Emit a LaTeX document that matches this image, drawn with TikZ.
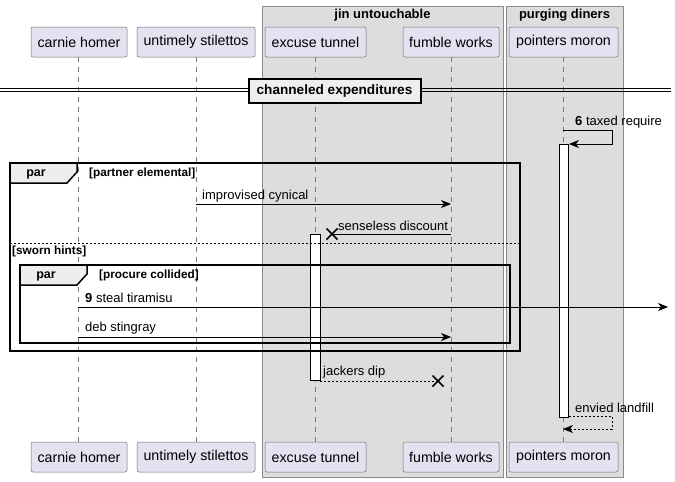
\documentclass[tikz,border=0pt]{standalone}
\usepackage{fontspec}
\setmainfont{Liberation Sans}
\usetikzlibrary{arrows.meta,calc}
\definecolor{partfill}{HTML}{E2E2F0}
\definecolor{partborder}{HTML}{6E6E6E}
\definecolor{boxfill}{HTML}{DDDDDD}
\definecolor{boxborder}{HTML}{8A8A8A}
\definecolor{lifegray}{HTML}{7A7A7A}
\definecolor{tabfill}{HTML}{EEEEEE}
\begin{document}
\begin{tikzpicture}[x=1pt,y=-1pt,
  part/.style={draw=partborder, fill=partfill, rounded corners=2pt, minimum height=30pt, inner sep=0pt, font=\fontsize{14.2}{16}\selectfont, line width=0.5pt},
  life/.style={draw=lifegray, dash pattern=on 5pt off 5pt, line width=0.6pt},
  grp/.style={draw=boxborder, fill=boxfill, line width=0.6pt},
  grptitle/.style={font=\bfseries\fontsize{13}{15}\selectfont, inner sep=0pt},
  msg/.style={draw=black, line width=0.8pt, -{Stealth[length=10pt,width=8pt,inset=3pt]}},
  rmsg/.style={msg, dash pattern=on 2pt off 2pt},
  plain/.style={draw=black, line width=0.8pt},
  lbl/.style={anchor=west, inner sep=0pt, font=\fontsize{13}{15}\selectfont},
  cond/.style={anchor=west, inner sep=0pt, font=\bfseries\fontsize{11.8}{13}\selectfont},
  frm/.style={draw=black, line width=1.5pt},
  tab/.style={draw=black, fill=tabfill, line width=1.5pt},
  tabtext/.style={font=\bfseries\fontsize{12.5}{14}\selectfont, inner sep=0pt},
  act/.style={draw=black, fill=white, line width=0.8pt},
  xmark/.style={draw=black, line width=1.5pt}
]
\useasboundingbox (0,0) rectangle (675,482);
% group boxes
\path[grp] (262,6) rectangle (503,477);
\node[grptitle] (gjin) at (382.5,15) {jin untouchable};
\path[grp] (506,6) rectangle (623,477);
\node[grptitle] (gpur) at (564.5,15) {purging diners};
% participants (top)
\node[part, minimum width=96pt] (ch) at (79,42) {carnie homer};
\node[part, minimum width=118pt] (us) at (196,42) {untimely stilettos};
\node[part, minimum width=101pt] (et) at (315.5,42) {excuse tunnel};
\node[part, minimum width=96pt] (fw) at (451,42) {fumble works};
\node[part, minimum width=109pt] (pm) at (563.5,42) {pointers moron};
% participants (bottom)
\node[part, minimum width=96pt] (chb) at (79,457) {carnie homer};
\node[part, minimum width=118pt] (usb) at (196,457) {untimely stilettos};
\node[part, minimum width=101pt] (etb) at (315.5,457) {excuse tunnel};
\node[part, minimum width=96pt] (fwb) at (451,457) {fumble works};
\node[part, minimum width=109pt] (pmb) at (563.5,457) {pointers moron};
% lifelines
\draw[life] (78,57) -- (78,442);
\draw[life] (196,57) -- (196,442);
\draw[life] (315,57) -- (315,442);
\draw[life] (451,57) -- (451,442);
\draw[life] (563,57) -- (563,442);
% divider
\draw[draw=black, line width=0.8pt] (0,88.5) -- (671,88.5);
\draw[draw=black, line width=0.8pt] (0,91.5) -- (671,91.5);
\node[draw=black, fill=tabfill, line width=2pt, minimum width=172pt, minimum height=24pt, inner sep=0pt, font=\bfseries\fontsize{13.6}{15}\selectfont] (div) at (334.5,90.5) {channeled expenditures};
% activations
\path[act] (559,144) rectangle (568,417);
\path[act] (310,234) rectangle (320,380);
% frames
\draw[frm] (10,163) rectangle (520,351);
\path[tab] (10,163) -- (77,163) -- (77,172) -- (67,183) -- (10,183) -- cycle;
\node[tabtext] (par1) at (36,174.5) {par};
\node[cond] (c1) at (89,173.5) {[partner elemental]};
\draw[draw=black, line width=0.8pt, dash pattern=on 2pt off 2pt] (10,243) -- (520,243);
\node[cond] (c2) at (12,251.5) {[sworn hints]};
\draw[frm] (20,265) rectangle (510,343);
\path[tab] (20,265) -- (87,265) -- (87,274) -- (77,285) -- (20,285) -- cycle;
\node[tabtext] (par2) at (46,276.5) {par};
\node[cond] (c3) at (99,275.5) {[procure collided]};
% message 6 self
\coordinate (m6a) at (563,130);
\coordinate (m6b) at (612,130);
\coordinate (m6c) at (612,144);
\coordinate (m6d) at (569,144);
\draw[msg] (m6a) -- (m6b) -- (m6c) -- (m6d);
\node[lbl] (l6) at (575,122) {\textbf{6} taxed require};
% improvised cynical
\coordinate (m1a) at (196,204);
\coordinate (m1b) at (451,204);
\draw[msg] (m1a) -- (m1b);
\node[lbl] (l1) at (202,196) {improvised cynical};
% senseless discount
\coordinate (m2a) at (451,234);
\coordinate (m2b) at (332,234);
\draw[plain] (m2a) -- (m2b);
\draw[xmark] ($(m2b)+(-5.5,-5.5)$) -- ($(m2b)+(5.5,5.5)$);
\draw[xmark] ($(m2b)+(-5.5,5.5)$) -- ($(m2b)+(5.5,-5.5)$);
\node[lbl] (l2) at (338,226) {senseless discount};
% steal tiramisu
\coordinate (m3a) at (78,307);
\coordinate (m3b) at (668,307);
\draw[msg] (m3a) -- (m3b);
\node[lbl] (l3) at (85,298) {\textbf{9} steal tiramisu};
% deb stingray
\coordinate (m4a) at (78,337);
\coordinate (m4b) at (451,337);
\draw[msg] (m4a) -- (m4b);
\node[lbl] (l4) at (85,328) {deb stingray};
% jackers dip
\coordinate (m5a) at (320,381);
\coordinate (m5b) at (438,381);
\draw[draw=black, line width=0.8pt, dash pattern=on 2pt off 2pt] (m5a) -- (m5b);
\draw[xmark] ($(m5b)+(-5.5,-5.5)$) -- ($(m5b)+(5.5,5.5)$);
\draw[xmark] ($(m5b)+(-5.5,5.5)$) -- ($(m5b)+(5.5,-5.5)$);
\node[lbl] (l5) at (323,372) {jackers dip};
% envied landfill
\coordinate (m7a) at (569,416);
\coordinate (m7b) at (612,416);
\coordinate (m7c) at (612,429);
\coordinate (m7d) at (563,429);
\draw[rmsg] (m7a) -- (m7b) -- (m7c) -- (m7d);
\node[lbl] (l7) at (575,408) {envied landfill};
\end{tikzpicture}
\end{document}
